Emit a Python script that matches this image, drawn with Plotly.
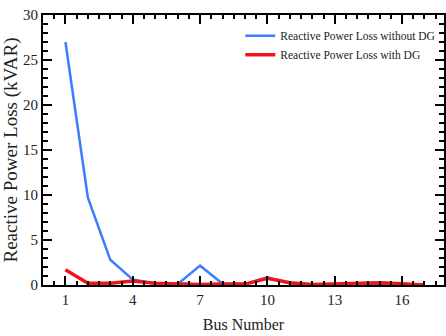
import plotly.graph_objects as go

# Reactive power loss per bus, kVAR
bus_number = list(range(1, 18))
loss_without_dg = [27.0, 9.7, 2.8, 0.6, 0.15, 0.1, 2.15, 0.15, 0.1, 0.85,
                   0.2, 0.05, 0.05, 0.1, 0.15, 0.1, 0.0]
loss_with_dg = [1.7, 0.2, 0.2, 0.45, 0.2, 0.1, 0.05, 0.1, 0.1, 0.75,
                0.25, 0.05, 0.1, 0.15, 0.25, 0.15, 0.0]
x_ticks = [1, 4, 7, 10, 13, 16]

SERIF = "Liberation Serif"

fig = go.Figure()
fig.add_trace(go.Scatter(
    x=bus_number, y=loss_without_dg, mode="lines",
    name="Reactive Power Loss without DG",
    line=dict(color="#3d7bff", width=2.5),
))
fig.add_trace(go.Scatter(
    x=bus_number, y=loss_with_dg, mode="lines",
    name="Reactive Power Loss with DG",
    line=dict(color="#f0141a", width=3.5),
))

axis_common = dict(
    showline=True, linecolor="black", linewidth=2,
    mirror="allticks", ticks="inside", tickcolor="black", tickwidth=1.5,
    showgrid=False, zeroline=False,
    tickfont=dict(family=SERIF, size=15, color="#222"),
)

fig.update_xaxes(
    **axis_common,
    range=[0, 17.87], tickvals=x_ticks, ticklen=9,
    minor=dict(dtick=0.5, tick0=0, ticks="inside", ticklen=4,
               tickcolor="black", tickwidth=1.5, showgrid=False),
    title=dict(text="Bus Number", font=dict(family=SERIF, size=16, color="#222"),
               standoff=12),
)
fig.update_yaxes(
    **axis_common,
    range=[0, 30], dtick=5, ticklen=9,
    minor=dict(dtick=1, ticks="inside", ticklen=5,
               tickcolor="black", tickwidth=1.5, showgrid=False),
    title=dict(text="Reactive Power Loss (kVAR)",
               font=dict(family=SERIF, size=19, color="#222"), standoff=1),
)

fig.update_layout(
    width=446, height=336,
    margin=dict(l=43, r=0, t=15, b=51),
    paper_bgcolor="white", plot_bgcolor="white",
    showlegend=True,
    font=dict(family=SERIF),
    legend=dict(
        x=0.492, y=0.977, xanchor="left", yanchor="top",
        font=dict(family=SERIF, size=11.5, color="#222"),
        bgcolor="rgba(0,0,0,0)", tracegroupgap=0,
    ),
)

fig.write_html("out.html")
